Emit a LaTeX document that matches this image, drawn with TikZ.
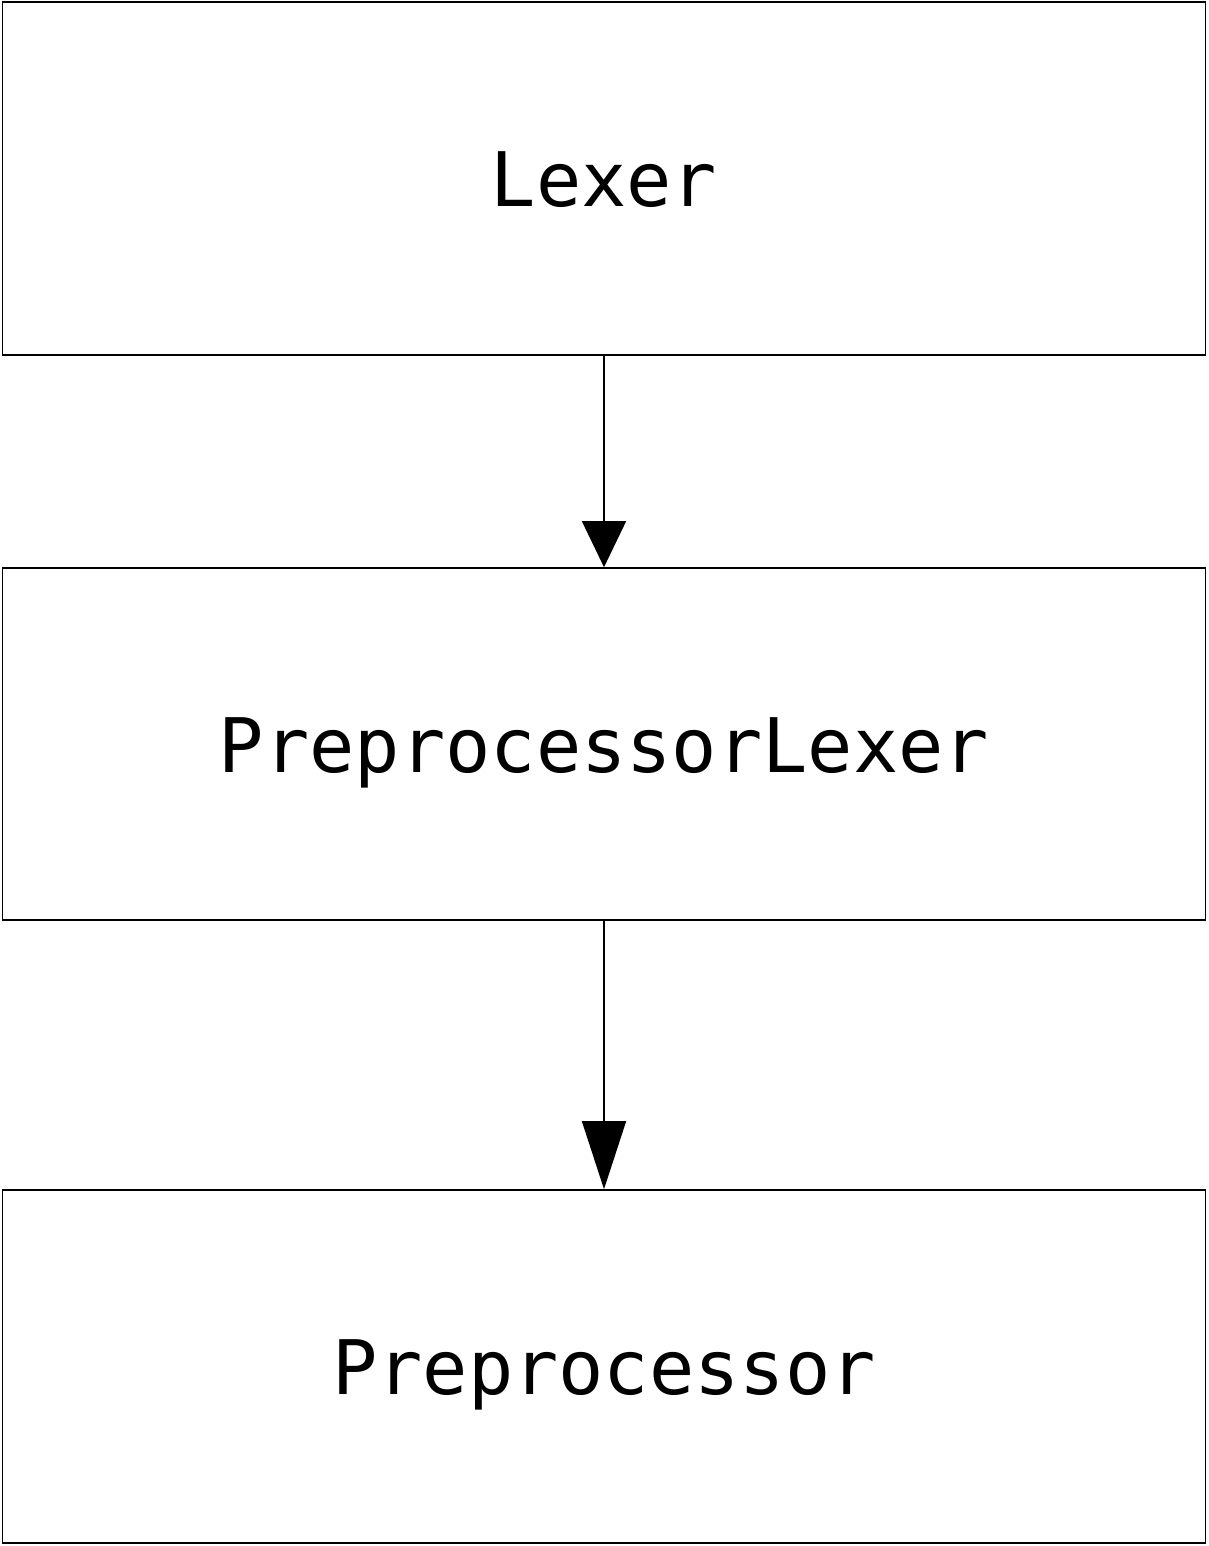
\documentclass[tikz,border=0pt]{standalone}
\usepackage{fontspec}
\setmonofont{DejaVu Sans Mono}
\usetikzlibrary{arrows.meta,positioning}

\tikzset{
  stagebox/.style={draw=black, line width=0.4pt, minimum width=12.02cm, minimum height=3.53cm,
    inner sep=0pt, text height=0.56cm, text depth=0pt,
    font=\ttfamily\fontsize{21.4}{24}\selectfont},
  flow/.style={line width=0.4pt, -{Triangle[length=#1, width=0.44cm]}},
}

\begin{document}
\begin{tikzpicture}[x=0.01cm, y=-0.01cm]
  \useasboundingbox (0,0) rectangle (1208,1546);

  % Lexer box
  \node[stagebox] (lexer) at (604,178.5) {Lexer};

  % PreprocessorLexer box
  \node[stagebox, minimum height=3.52cm] (pplexer) at (604,744) {PreprocessorLexer};

  % Preprocessor box
  \node[stagebox] (pp) at (604,1366.5) {Preprocessor};

  % Arrows between stages
  \draw[flow=0.46cm] (lexer.south) -- (pplexer.north);
  \draw[flow=0.68cm] (pplexer.south) -- (pp.north);

\end{tikzpicture}
\end{document}
